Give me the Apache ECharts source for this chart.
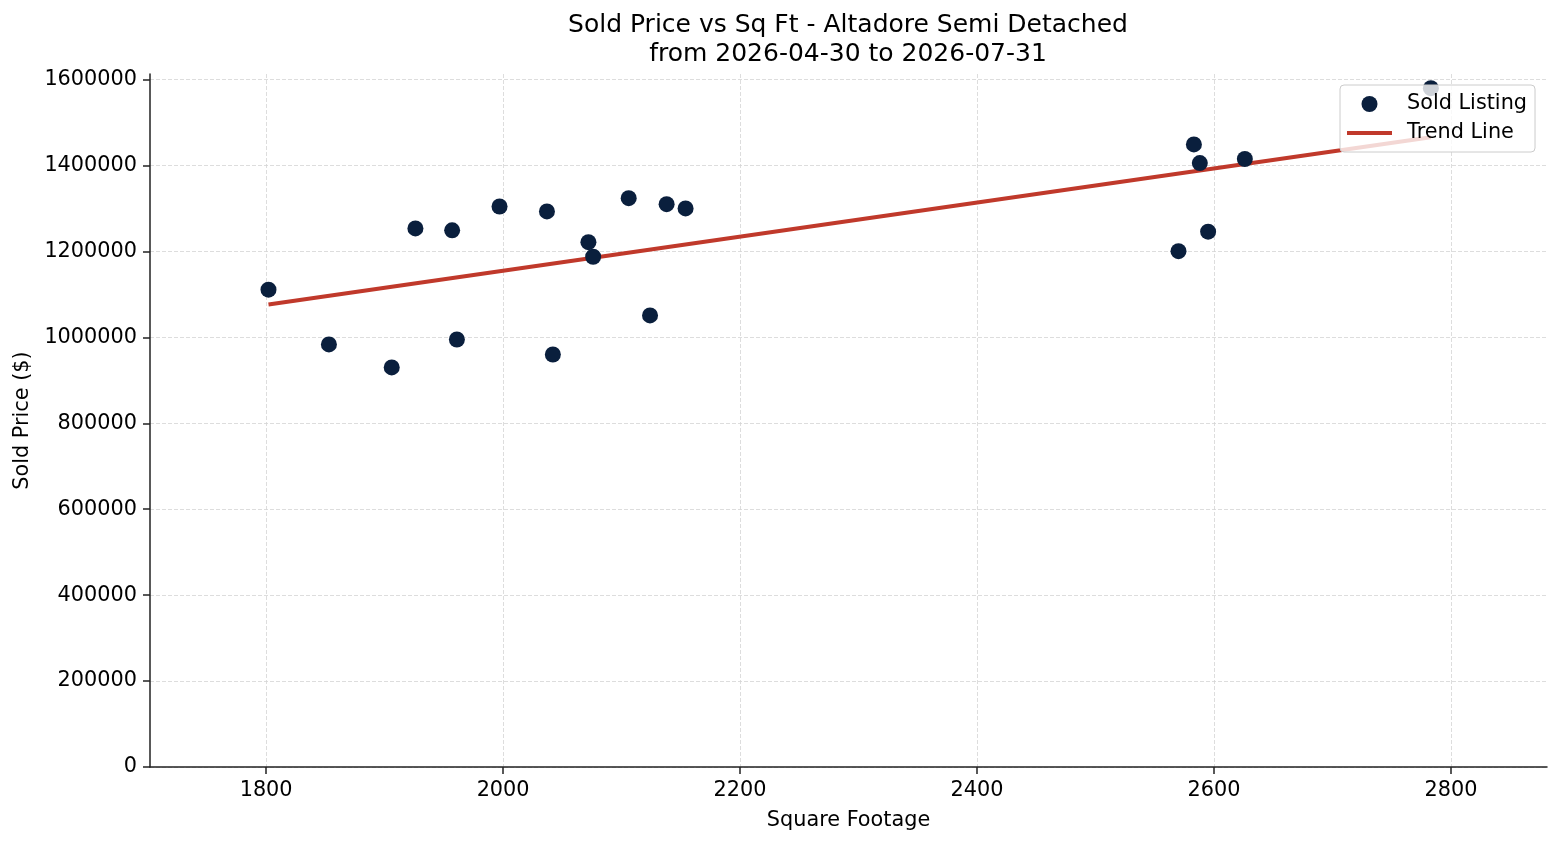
<!DOCTYPE html>
<html>
<head>
<meta charset="utf-8">
<script src="https://cdn.jsdelivr.net/npm/echarts@6/dist/echarts.min.js"></script>
<style>
html,body{margin:0;padding:0;background:#fff;}
#chart{width:1560px;height:845px;}
</style>
</head>
<body>
<div id="chart"></div>
<script>
// Data
const sqft = [1802, 1853, 1906, 1926, 1957, 1961, 1997, 2037, 2042, 2072, 2076, 2106, 2124, 2138, 2154, 2570, 2583, 2588, 2595, 2626, 2783];
const price = [1111000, 983500, 930000, 1253500, 1249000, 995000, 1304500, 1293000, 960000, 1221500, 1187500, 1324000, 1051000, 1310000, 1300000, 1200500, 1449000, 1405500, 1246000, 1415000, 1580000];
const trendX = [1802, 2783];
const trendY = [1076500, 1465500];
const xTicks = [1800, 2000, 2200, 2400, 2600, 2800];
const yTicks = [0, 200000, 400000, 600000, 800000, 1000000, 1200000, 1400000, 1600000];
const titleLines = ['Sold Price vs Sq Ft - Altadore Semi Detached', 'from 2026-04-30 to 2026-07-31'];

const FONT = 'DejaVu Sans';
const chart = echarts.init(document.getElementById('chart'), null, {renderer: 'canvas'});

const scatterData = sqft.map((x, i) => [x, price[i]]);
const trendData = trendX.map((x, i) => [x, trendY[i]]);

const axisLineStyle = {color: '#222222', width: 1.5};
const gridStyle = {color: '#d4d4d4', width: 0.8, type: [4, 2]};
const plain = v => String(v);

chart.setOption({
  animation: false,
  backgroundColor: '#ffffff',
  textStyle: {fontFamily: FONT},
  graphic: [
    {type: 'text', x: 848, y: 25, style: {text: titleLines[0], fontFamily: FONT, fontSize: 25, fill: '#000', align: 'center', verticalAlign: 'middle'}},
    {type: 'text', x: 848, y: 54, style: {text: titleLines[1], fontFamily: FONT, fontSize: 25, fill: '#000', align: 'center', verticalAlign: 'middle'}}
  ],
  grid: {left: 150, right: 13, top: 74, bottom: 78, containLabel: false, outerBoundsMode: 'none'},
  legend: {
    orient: 'vertical',
    left: 1340,
    top: 85,
    data: [
      {name: 'Sold Listing', icon: 'circle'},
      {name: 'Trend Line', icon: 'path://M0,0L45,0L45,4L0,4Z'}
    ],
    itemWidth: 45,
    itemHeight: 16,
    itemGap: 5,
    padding: [7, 8, 7, 7],
    backgroundColor: 'rgba(255,255,255,0.8)',
    borderColor: '#cccccc',
    borderWidth: 1,
    borderRadius: 4,
    textStyle: {fontFamily: FONT, fontSize: 20.8, color: '#000', lineHeight: 24, padding: [0, 0, 0, 10]},
    z: 10
  },
  xAxis: {
    type: 'value',
    min: 1702,
    max: 2881,
    name: 'Square Footage',
    nameLocation: 'middle',
    nameGap: 43,
    nameTextStyle: {fontFamily: FONT, fontSize: 20.8, color: '#000'},
    axisLine: {show: true, onZero: false, lineStyle: axisLineStyle},
    axisTick: {show: true, length: 7, lineStyle: {color: '#222', width: 1.5}, customValues: xTicks},
    axisLabel: {fontFamily: FONT, fontSize: 20.8, color: '#000', margin: 13, customValues: xTicks, formatter: plain},
    splitLine: {show: true, lineStyle: gridStyle}
  },
  yAxis: {
    type: 'value',
    min: 0,
    max: 1612900,
    name: 'Sold Price ($)',
    nameLocation: 'middle',
    nameGap: 102,
    nameTextStyle: {fontFamily: FONT, fontSize: 20.8, color: '#000'},
    axisLine: {show: true, onZero: false, lineStyle: axisLineStyle},
    axisTick: {show: true, length: 7, lineStyle: {color: '#222', width: 1.5}, customValues: yTicks},
    axisLabel: {fontFamily: FONT, fontSize: 20.8, color: '#000', margin: 13, customValues: yTicks, formatter: plain},
    splitLine: {show: true, lineStyle: gridStyle}
  },
  series: [
    {
      name: 'Sold Listing',
      type: 'scatter',
      data: scatterData,
      symbol: 'circle',
      symbolSize: 16,
      itemStyle: {color: '#0a1f3d', opacity: 1},
      z: 3
    },
    {
      name: 'Trend Line',
      type: 'line',
      data: trendData,
      showSymbol: false,
      symbol: 'none',
      lineStyle: {color: '#c0392b', width: 4},
      itemStyle: {color: '#c0392b'},
      z: 2
    }
  ]
});
</script>
</body>
</html>
